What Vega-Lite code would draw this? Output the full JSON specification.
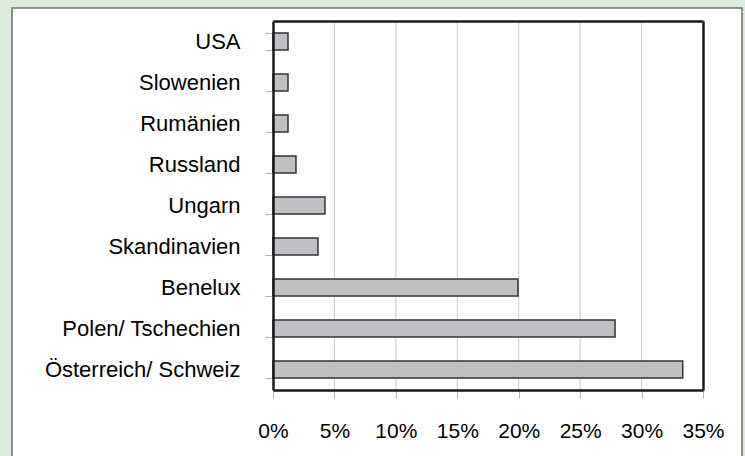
{
  "$schema": "https://vega.github.io/schema/vega-lite/v6.json",
  "width": 730,
  "height": 450,
  "autosize": {"type": "none"},
  "padding": {"left": 12, "top": 8, "right": 3, "bottom": 0},
  "background": "#dcecdc",
  "config": {
    "view": {"fill": "white", "stroke": "#6e6e6e", "strokeWidth": 1.5},
    "font": "Liberation Sans"
  },
  "datasets": {
    "laender": [
      {"land": "USA", "anteil": 0.0122},
      {"land": "Slowenien", "anteil": 0.0122},
      {"land": "Rumänien", "anteil": 0.0122},
      {"land": "Russland", "anteil": 0.0187},
      {"land": "Ungarn", "anteil": 0.0423},
      {"land": "Skandinavien", "anteil": 0.0366},
      {"land": "Benelux", "anteil": 0.1994},
      {"land": "Polen/ Tschechien", "anteil": 0.2784},
      {"land": "Österreich/ Schweiz", "anteil": 0.3335}
    ],
    "gitter": [
      {"g": 0.05}, {"g": 0.1}, {"g": 0.15}, {"g": 0.2}, {"g": 0.25}, {"g": 0.3}
    ]
  },
  "resolve": {
    "scale": {"y": "independent"},
    "axis": {"x": "independent", "y": "independent"}
  },
  "layer": [
    {
      "data": {"name": "gitter"},
      "mark": {"type": "rule", "color": "#c8c8c8", "strokeWidth": 1},
      "encoding": {
        "x": {"field": "g", "type": "quantitative", "axis": null},
        "y": {"datum": 0, "type": "quantitative", "scale": {"domain": [0, 1], "range": [13, 382], "nice": false}, "axis": null},
        "y2": {"datum": 1}
      }
    },
    {
      "data": {"name": "laender"},
      "mark": {"type": "bar", "fill": "#c0c0c4", "stroke": "#333333", "strokeWidth": 1.5},
      "encoding": {
        "y": {
          "field": "land", "type": "nominal", "sort": null,
          "scale": {"range": [13, 382], "paddingInner": 0.585, "paddingOuter": 0.2925},
          "axis": {
            "orient": "left", "offset": -261, "title": null, "zindex": 1,
            "domainColor": "#1a1a1a", "domainWidth": 2.5,
            "tickBand": "extent", "tickColor": "#b4b4b4", "tickSize": 8, "tickWidth": 1,
            "labelFont": "Liberation Sans", "labelFontSize": 22, "labelColor": "#000000",
            "labelPadding": 25, "labelLimit": 400, "grid": false
          }
        },
        "x": {
          "field": "anteil", "type": "quantitative",
          "scale": {"domain": [0, 0.35], "range": [261, 691], "nice": false, "zero": true},
          "axis": {
            "orient": "bottom", "offset": -68, "title": null, "zindex": 1,
            "values": [0, 0.05, 0.1, 0.15, 0.2, 0.25, 0.3, 0.35],
            "format": ".0%",
            "domainColor": "#1a1a1a", "domainWidth": 2.5,
            "tickColor": "#b4b4b4", "tickSize": 8, "tickWidth": 1,
            "grid": false,
            "labelOverlap": false, "labelFlush": false, "labelBound": false,
            "labelFont": "Liberation Sans", "labelFontSize": 21, "labelColor": "#000000",
            "labelPadding": 22
          }
        }
      }
    },
    {
      "data": {"name": "laender"},
      "mark": {"type": "bar", "opacity": 0},
      "encoding": {
        "y": {
          "field": "land", "type": "nominal", "sort": null,
          "scale": {"range": [13, 382], "paddingInner": 0.585, "paddingOuter": 0.2925},
          "axis": {
            "orient": "right", "offset": -39, "title": null, "zindex": 1,
            "domainColor": "#1a1a1a", "domainWidth": 2.5,
            "ticks": false, "labels": false, "grid": false
          }
        },
        "x": {
          "field": "anteil", "type": "quantitative",
          "axis": {
            "orient": "top", "offset": -13, "title": null, "zindex": 1,
            "domainColor": "#1a1a1a", "domainWidth": 2.5,
            "ticks": false, "labels": false, "grid": false
          }
        }
      }
    }
  ]
}
